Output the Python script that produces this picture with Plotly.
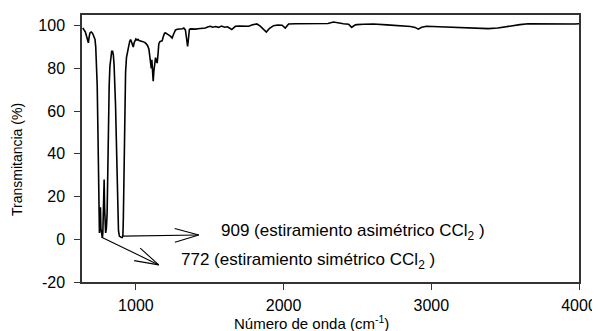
import math
import plotly.graph_objects as go

wavenumber = [640, 649, 658, 664, 670, 678, 684, 689, 697, 705, 712, 718, 723, 728, 733, 738, 743, 747, 750, 753,
              757, 760, 763, 767, 770, 773, 776, 779, 782, 785, 788, 791, 795, 800, 805, 810, 814, 819, 824, 830,
              836, 842, 847, 852, 857, 862, 867, 872, 877, 882, 888, 895, 902, 908, 912, 915, 918, 921, 925, 930,
              936, 942, 948, 953, 958, 964, 970, 976, 982, 988, 994, 1000, 1008, 1015, 1022, 1030, 1040, 1050, 1060, 1070,
              1080, 1088, 1095, 1100, 1104, 1108, 1112, 1117, 1122, 1127, 1133, 1138, 1144, 1150, 1155, 1162, 1170, 1178, 1186, 1194,
              1200, 1210, 1223, 1235, 1245, 1255, 1268, 1280, 1292, 1302, 1315, 1324, 1335, 1343, 1350, 1356, 1362, 1370, 1385, 1403,
              1420, 1440, 1470, 1490, 1504, 1520, 1540, 1560, 1580, 1600, 1620, 1649, 1673, 1700, 1730, 1763, 1790, 1819, 1842, 1860,
              1883, 1905, 1932, 1960, 1990, 2011, 2034, 2080, 2150, 2230, 2300, 2338, 2370, 2405, 2440, 2461, 2480, 2495, 2540, 2608,
              2700, 2799, 2860, 2890, 2912, 2935, 2968, 3050, 3137, 3250, 3385, 3450, 3543, 3600, 3655, 3750, 3850, 3971, 4000]
transmittance = [99, 98, 97, 95.5, 94, 92, 95, 96.6, 97, 96.6, 95.5, 94.5, 93.5, 90, 84, 72, 50, 25, 6, 3,
                 8, 15, 5, 2, 1, 0.6, 3, 9, 20, 28, 15, 5, 3, 5, 12, 33, 55, 72, 81, 86,
                 88, 88, 86.5, 82, 75, 63, 48, 28, 12, 4, 1.5, 1, 0.8, 0.8, 2, 10, 30, 50, 66, 78,
                 85, 88, 90, 91, 92.6, 93.5, 92.5, 90.5, 90, 92, 93.5, 93.8, 93.2, 93.6, 93, 92.8, 92.6, 92.5, 92.2, 91.5,
                 90.5, 89, 86, 82, 80, 84, 79, 74, 79, 83, 85, 83.5, 82.5, 87, 91.5, 92.5, 92.8, 93, 95, 96.5,
                 96.6, 96, 95.6, 95, 94.2, 96, 98, 98.3, 98.4, 98.3, 98.6, 98.9, 98, 94, 90.3, 94, 98.2, 98.5, 98.4, 98.4,
                 98.6, 98.8, 98.9, 99.5, 99.7, 99.3, 99.6, 99.2, 99.8, 99.3, 99.5, 98.2, 99.7, 99.8, 99.6, 99.7, 100.4, 100.8, 99.8, 98.5,
                 97, 98.8, 100, 100.3, 100.2, 98.9, 100.8, 100.9, 100.9, 101, 101, 101.7, 101.2, 100.9, 100.7, 99.2, 100.2, 100.5, 100.7, 100.8,
                 100.4, 100, 99.6, 99.2, 98.4, 99.3, 99.7, 99.5, 99.2, 98.8, 98.6, 98.9, 100, 100.5, 100.9, 100.8, 100.9, 100.8, 100.9]

x_ticks = [1000, 2000, 3000, 4000]
y_ticks = [-20, 0, 20, 40, 60, 80, 100]
y_tick_text = ["-20", "0", "20", "40", "60", "80", "100"]
x_range = [635, 4000]
y_range = [-20, 105]

label_909 = "909 (estiramiento asimétrico CCl<sub>2</sub> )"
label_772 = "772 (estiramiento simétrico CCl<sub>2</sub> )"
arrow_909 = dict(tail=(907, 1.5), head=(1426, 2.0), text_pos=(1561, 3.5))
arrow_772 = dict(tail=(768, 1.0), head=(1155, -12.0), text_pos=(1290, -10.0))

FONT = "Arial, Liberation Sans, Helvetica, sans-serif"
# the page body has an 8px margin; the figure is sized so the plot area lands where the reference has it
OFF = 8
W, H = 600 - OFF, 331 - OFF
M = dict(l=82 - OFF, r=21, t=15 - OFF, b=49)
plot_w = W - M["l"] - M["r"]
plot_h = H - M["t"] - M["b"]
px_x = plot_w / (x_range[1] - x_range[0])
px_y = plot_h / (y_range[1] - y_range[0])

fig = go.Figure()
fig.add_trace(go.Scatter(x=wavenumber, y=transmittance, mode="lines",
                         line=dict(color="black", width=1.6), showlegend=False, hoverinfo="skip"))


def arrow_xy(tail, head, head_len=25, half_angle=16):
    dx = (head[0] - tail[0]) * px_x
    dy = (head[1] - tail[1]) * px_y
    th = math.atan2(dy, dx)
    xs = [tail[0], head[0], None]
    ys = [tail[1], head[1], None]
    for s in (1, -1):
        a = th + s * math.radians(half_angle)
        xs.append(head[0] - head_len * math.cos(a) / px_x)
        ys.append(head[1] - head_len * math.sin(a) / px_y)
        if s == 1:
            xs.append(head[0])
            ys.append(head[1])
    return xs, ys


for a, lab in ((arrow_909, label_909), (arrow_772, label_772)):
    ax_, ay_ = arrow_xy(a["tail"], a["head"])
    fig.add_trace(go.Scatter(x=ax_, y=ay_, mode="lines", line=dict(color="black", width=1.1),
                             showlegend=False, hoverinfo="skip", connectgaps=False))
    fig.add_annotation(x=a["text_pos"][0], y=a["text_pos"][1], xref="x", yref="y", text=lab,
                       showarrow=False, xanchor="left", yanchor="middle",
                       font=dict(family=FONT, size=17, color="black"))

axis_common = dict(showgrid=False, zeroline=False, showline=True, linecolor="#333333", linewidth=1.5,
                   mirror=True, ticks="outside", ticklen=6, tickwidth=1.2, tickcolor="#333333",
                   automargin=False, tickfont=dict(family=FONT, size=16, color="black"))

fig.update_xaxes(range=x_range, tickvals=x_ticks, ticklabelstandoff=2, **axis_common)
fig.update_yaxes(range=y_range, tickvals=y_ticks, ticktext=y_tick_text, ticklabelstandoff=6, **axis_common)

fig.add_annotation(text="Número de onda (cm<sup>-1</sup>)", xref="paper", yref="paper",
                   x=(311 - OFF - M["l"]) / plot_w, y=(H - M["b"] - (322 - OFF)) / plot_h,
                   xanchor="center", yanchor="middle", showarrow=False,
                   font=dict(family=FONT, size=15, color="black"))
fig.add_annotation(text="Transmitancia (%)", xref="paper", yref="paper",
                   x=(17 - OFF - M["l"]) / plot_w, y=(H - M["b"] - (160 - OFF)) / plot_h,
                   xanchor="center", yanchor="middle", showarrow=False, textangle=-90,
                   font=dict(family=FONT, size=14, color="black"))

fig.update_layout(width=W, height=H, margin=M,
                  plot_bgcolor="white", paper_bgcolor="white", font=dict(family=FONT))

fig.write_html("out.html")
